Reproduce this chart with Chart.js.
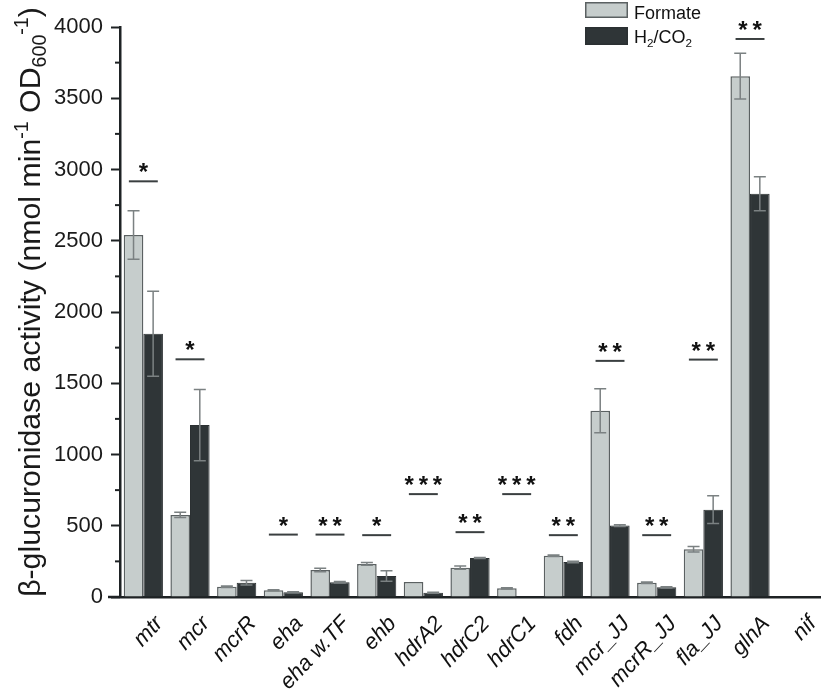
<!DOCTYPE html>
<html><head><meta charset="utf-8">
<script src="https://cdn.jsdelivr.net/npm/chart.js@4.4.1/dist/chart.umd.min.js"></script>
<style>html,body{margin:0;padding:0;background:#fff;overflow:hidden}</style>
</head><body>
<canvas id="c" width="830" height="695"></canvas>
<script>
const categories = ['mtr','mcr','mcrR','eha','eha w.TF','ehb','hdrA2','hdrC2','hdrC1','fdh','mcr_JJ','mcrR_JJ','fla_JJ','glnA','nif'];
const formate    = [2540, 576, 72, 47, 190, 232, 105, 206, 61, 290, 1307, 100, 335, 3655, 0];
const h2co2      = [1847, 1207, 100, 33, 103, 148, 30, 274, 0, 246, 501, 68, 613, 2830, 0];
const formateErr = [170, 18, 5, 4, 12, 10, 0, 12, 4, 5, 155, 6, 20, 160, 0];
const h2co2Err   = [298, 250, 15, 3, 5, 37, 3, 4, 0, 5, 6, 4, 97, 120, 0];
const sigLabels  = ['*','*','','*','**','*','***','**','***','**','**','**','**','**',''];
const sigLevels  = [2917, 1668, null, 438, 438, 434, 722, 455, 722, 434, 1657, 434, 1666, 3916, null];
const yTicks     = [0, 500, 1000, 1500, 2000, 2500, 3000, 3500, 4000];
const seriesNames = ['Formate', 'H2/CO2'];

const FONT = "'Liberation Sans', Arial, Helvetica, sans-serif";
const FORMATE_FILL = '#c6cdcc', FORMATE_BORDER = '#5b6162';
const H2_FILL = '#2f3537', H2_BORDER = '#2b3032';
const AXIS = '#1e2224';

function drawRich(ctx, segs, fs, x, y) {
  let cx = x;
  segs.forEach(s => {
    const size = s.k === 'n' ? fs : fs * 0.65;
    ctx.font = size + 'px ' + FONT;
    const dy = s.k === 'sup' ? -0.4 * fs : (s.k === 'sub' ? 0.2 * fs : 0);
    ctx.fillText(s.t, cx, y + dy);
    cx += ctx.measureText(s.t).width;
  });
  return cx - x;
}
function measureRich(ctx, segs, fs) {
  let w = 0;
  segs.forEach(s => {
    const size = s.k === 'n' ? fs : fs * 0.65;
    ctx.font = size + 'px ' + FONT;
    w += ctx.measureText(s.t).width;
  });
  return w;
}

const errorBars = {
  id: 'errorBars',
  afterDatasetsDraw(chart) {
    const ctx = chart.ctx, y = chart.scales.y;
    [formateErr, h2co2Err].forEach((errs, di) => {
      const meta = chart.getDatasetMeta(di);
      meta.data.forEach((bar, i) => {
        const e = errs[i];
        if (!e) return;
        const v = chart.data.datasets[di].data[i];
        const top = y.getPixelForValue(v + e), bot = y.getPixelForValue(Math.max(0, v - e));
        const x = bar.x;
        ctx.save();
        ctx.strokeStyle = '#7b8182';
        ctx.lineWidth = 1.5;
        ctx.beginPath();
        ctx.moveTo(x, top); ctx.lineTo(x, bot);
        ctx.moveTo(x - 6, top); ctx.lineTo(x + 6, top);
        ctx.moveTo(x - 6, bot); ctx.lineTo(x + 6, bot);
        ctx.stroke();
        ctx.restore();
      });
    });
  }
};

const significance = {
  id: 'significance',
  afterDatasetsDraw(chart) {
    const ctx = chart.ctx, xs = chart.scales.x, ys = chart.scales.y;
    const cw = xs.getPixelForValue(1) - xs.getPixelForValue(0);
    ctx.save();
    sigLabels.forEach((lab, i) => {
      if (!lab || sigLevels[i] == null) return;
      const cx = xs.getPixelForValue(i);
      const py = ys.getPixelForValue(sigLevels[i]);
      ctx.strokeStyle = '#3a3f40';
      ctx.lineWidth = 2;
      ctx.beginPath();
      ctx.moveTo(cx - 0.31 * cw, py); ctx.lineTo(cx + 0.31 * cw, py);
      ctx.stroke();
      ctx.fillStyle = '#111';
      ctx.font = 'bold 24px ' + FONT;
      ctx.textAlign = 'center';
      ctx.textBaseline = 'alphabetic';
      ctx.fillText(lab.split('').join('\u2009'), cx, py - 1);
    });
    ctx.restore();
  }
};

const axisExtras = {
  id: 'axisExtras',
  afterDraw(chart) {
    const ctx = chart.ctx, ys = chart.scales.y, ca = chart.chartArea;
    ctx.save();
    ctx.strokeStyle = AXIS; ctx.lineWidth = 2;
    for (let i = 0; i < yTicks.length - 1; i++) {
      const v = (yTicks[i] + yTicks[i + 1]) / 2;
      const p = ys.getPixelForValue(v);
      ctx.beginPath(); ctx.moveTo(ca.left - 5, p); ctx.lineTo(ca.left, p); ctx.stroke();
    }
    ctx.lineWidth = 2.5;
    ctx.beginPath(); ctx.moveTo(ca.left - 12, ca.bottom); ctx.lineTo(ca.left, ca.bottom); ctx.stroke();
    ctx.restore();
  }
};

const yTitle = {
  id: 'yTitle',
  afterDraw(chart) {
    const ctx = chart.ctx;
    const segs = [
      {t: 'β-glucuronidase activity (nmol min', k: 'n'},
      {t: '-1', k: 'sup'},
      {t: ' OD', k: 'n'},
      {t: '600', k: 'sub'},
      {t: '-1', k: 'sup'},
      {t: ')', k: 'n'}
    ];
    const w100 = measureRich(ctx, segs, 100);
    const fs = 100 * 590 / w100;
    const w = measureRich(ctx, segs, fs);
    ctx.save();
    ctx.fillStyle = '#1a1a1a';
    ctx.textAlign = 'left'; ctx.textBaseline = 'alphabetic';
    ctx.translate(40, 302);
    ctx.rotate(-Math.PI / 2);
    drawRich(ctx, segs, fs, -w / 2, 0);
    ctx.restore();
  }
};

const legendBox = {
  id: 'legendBox',
  afterDraw(chart) {
    const ctx = chart.ctx;
    ctx.save();
    ctx.lineWidth = 1.5;
    ctx.fillStyle = FORMATE_FILL; ctx.strokeStyle = FORMATE_BORDER;
    ctx.fillRect(585, 2, 43, 16); ctx.strokeRect(585.75, 2.75, 41.5, 14.5);
    ctx.fillStyle = H2_FILL; ctx.strokeStyle = H2_BORDER;
    ctx.fillRect(585, 27, 43, 18); ctx.strokeRect(585.75, 27.75, 41.5, 16.5);
    ctx.fillStyle = '#111';
    ctx.textBaseline = 'alphabetic'; ctx.textAlign = 'left';
    ctx.font = '18px ' + FONT;
    ctx.fillText(seriesNames[0], 634, 19);
    drawRich(ctx, [{t:'H',k:'n'},{t:'2',k:'sub'},{t:'/CO',k:'n'},{t:'2',k:'sub'}], 18, 634, 43);
    ctx.restore();
  }
};

new Chart(document.getElementById('c'), {
  type: 'bar',
  data: {
    labels: categories,
    datasets: [
      {label: seriesNames[0], data: formate, backgroundColor: FORMATE_FILL, borderColor: FORMATE_BORDER, borderWidth: 1.5, categoryPercentage: 0.84, barPercentage: 1.0},
      {label: seriesNames[1], data: h2co2, backgroundColor: H2_FILL, borderColor: H2_BORDER, borderWidth: 1, categoryPercentage: 0.84, barPercentage: 1.0}
    ]
  },
  options: {
    responsive: false,
    animation: false,
    devicePixelRatio: 1,
    layout: {padding: {top: 27, right: 0, left: 0, bottom: 0}},
    plugins: {legend: {display: false}, tooltip: {enabled: false}, title: {display: false}},
    scales: {
      y: {
        min: 0, max: 4000,
        afterBuildTicks: s => { s.ticks = yTicks.map(v => ({value: v})); },
        ticks: {font: {size: 22, family: FONT}, color: '#1a1a1a', padding: 8, callback: v => String(v)},
        grid: {drawOnChartArea: false, drawTicks: true, tickLength: 9, tickColor: AXIS, tickWidth: 2},
        border: {color: AXIS, width: 2.5},
        afterFit: s => { s.width = 120; }
      },
      x: {
        ticks: {font: {size: 22, family: FONT, style: 'italic'}, color: '#111', minRotation: 47, maxRotation: 47, autoSkip: false, labelOffset: 16, padding: 14},
        grid: {display: false, drawTicks: false},
        border: {color: AXIS, width: 2.5},
        afterFit: s => { s.height = 98; }
      }
    }
  },
  plugins: [errorBars, significance, axisExtras, yTitle, legendBox]
});
</script>
</body></html>
